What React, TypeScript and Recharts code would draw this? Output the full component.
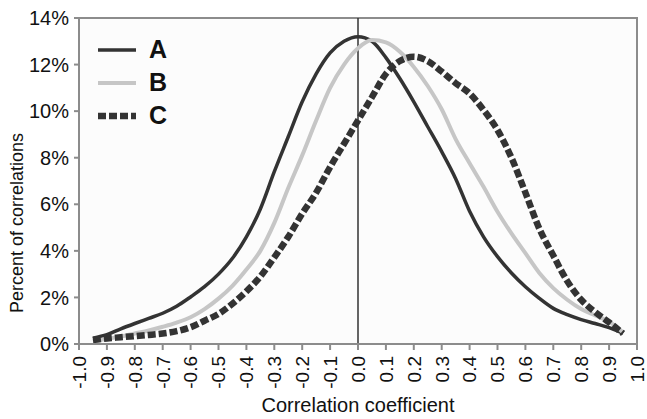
import React from 'react';
import {
  LineChart,
  Line,
  XAxis,
  YAxis,
  ReferenceLine,
  ReferenceArea,
  Legend
} from 'recharts';

// correlation bins (x positions of the smoothed points)
const coefficients = [
  -0.95, -0.9, -0.85, -0.8, -0.75, -0.7, -0.65, -0.6, -0.55, -0.5,
  -0.45, -0.4, -0.35, -0.3, -0.25, -0.2, -0.15, -0.1, -0.05, 0,
  0.05, 0.1, 0.15, 0.2, 0.25, 0.3, 0.35, 0.4, 0.45, 0.5,
  0.55, 0.6, 0.65, 0.7, 0.75, 0.8, 0.85, 0.9, 0.95
];

// percent of correlations per series
const seriesA = [
  0.25, 0.4, 0.65, 0.88, 1.1, 1.32, 1.62, 2.02, 2.46, 3.0,
  3.68, 4.6, 5.8, 7.4, 8.9, 10.4, 11.6, 12.5, 13.0, 13.2,
  13.0, 12.3, 11.4, 10.4, 9.33, 8.26, 7.1, 5.7, 4.6, 3.75,
  3.05, 2.46, 1.96, 1.53, 1.26, 1.05, 0.88, 0.7, 0.45
];
const seriesB = [
  0.12, 0.22, 0.32, 0.45, 0.58, 0.74, 0.92, 1.15, 1.5, 1.95,
  2.5, 3.2, 4.0, 5.2, 6.7, 8.1, 9.6, 11.0, 12.0, 12.7,
  13.05, 12.95, 12.55, 11.9, 11.08, 10.08, 8.8, 7.76, 6.75, 5.68,
  4.75, 3.9, 3.05, 2.4, 1.9, 1.5, 1.23, 0.96, 0.5
];
const seriesC = [
  0.17, 0.24, 0.29, 0.34, 0.39, 0.45, 0.55, 0.72, 1.0, 1.29,
  1.73, 2.26, 2.9, 3.72, 4.6, 5.6, 6.5, 7.6, 8.6, 9.6,
  10.6, 11.6, 12.15, 12.34, 12.15, 11.7, 11.2, 10.76, 10.05, 9.19,
  8.0, 6.5, 4.95, 3.8, 2.7, 1.9, 1.37, 0.93, 0.45
];

const xTickLabels = [
  '-1.0', '-0.9', '-0.8', '-0.7', '-0.6', '-0.5', '-0.4', '-0.3', '-0.2', '-0.1', '0.0',
  '0.1', '0.2', '0.3', '0.4', '0.5', '0.6', '0.7', '0.8', '0.9', '1.0'
];
const yTicks = [0, 2, 4, 6, 8, 10, 12, 14];

const chartData = coefficients.map((x, i) => ({
  x,
  A: seriesA[i],
  B: seriesB[i],
  C: seriesC[i]
}));

const SERIES = [
  { key: 'A', color: '#333333', width: 3.5, dash: undefined },
  { key: 'B', color: '#c6c6c6', width: 4, dash: undefined },
  { key: 'C', color: '#333333', width: 6.5, dash: '8 3' }
];

const FONT = '"Liberation Sans", Arial, sans-serif';

const XTick = (props: any) => {
  const { x, y, payload } = props;
  const label = xTickLabels.find((l) => Math.abs(parseFloat(l) - payload.value) < 1e-6) ?? '';
  return (
    <text
      x={x}
      y={y}
      dy="0.36em"
      transform={`rotate(-90, ${x}, ${y})`}
      textAnchor="end"
      fontSize={19}
      fill="#111"
      fontFamily={FONT}
    >
      {label}
    </text>
  );
};

const LegendBox = () => (
  <div style={{ fontFamily: FONT }}>
    {SERIES.map((s) => (
      <div key={s.key} style={{ display: 'flex', alignItems: 'center', height: 33 }}>
        <svg width={40} height={20}>
          <line x1={1} y1={10} x2={39} y2={10} stroke={s.color} strokeWidth={s.width} strokeDasharray={s.dash} />
        </svg>
        <span style={{ marginLeft: 12, fontSize: 25, fontWeight: 'bold', color: '#111', lineHeight: '33px' }}>
          {s.key}
        </span>
      </div>
    ))}
  </div>
);

export default function App() {
  return (
    <div style={{ width: 647, height: 419, background: '#fff', fontFamily: FONT }}>
      <style>{'body{margin:0;} .recharts-surface{overflow:visible;}'}</style>
      <LineChart width={647} height={419} data={chartData} margin={{ top: 18, right: 10, bottom: 0, left: 0 }}>
        <ReferenceArea
          x1={-1}
          x2={1}
          y1={0}
          y2={14}
          fill="#fcfcfc"
          fillOpacity={1}
          stroke="#8c8c8c"
          strokeWidth={2}
        />
        <XAxis
          dataKey="x"
          type="number"
          domain={[-1, 1]}
          ticks={xTickLabels.map((l) => parseFloat(l))}
          interval={0}
          height={75}
          tick={<XTick />}
          tickSize={6}
          tickMargin={6}
          stroke="#8c8c8c"
          strokeWidth={2}
          label={(p: any) => (
            <text
              x={p.viewBox.x + p.viewBox.width / 2}
              y={p.viewBox.y + 68}
              textAnchor="middle"
              fontSize={20}
              fill="#111"
              fontFamily={FONT}
            >
              Correlation coefficient
            </text>
          )}
        />
        <YAxis
          type="number"
          domain={[0, 14]}
          ticks={yTicks}
          width={79}
          tickFormatter={(v) => `${v}%`}
          tick={{ fontSize: 20, fill: '#111', fontFamily: FONT }}
          tickSize={5}
          tickMargin={5}
          stroke="#8c8c8c"
          strokeWidth={2}
          label={(p: any) => {
            const cx = p.viewBox.x + 17;
            const cy = p.viewBox.y + p.viewBox.height / 2 + 42;
            return (
              <text
                x={cx}
                y={cy}
                transform={`rotate(-90, ${cx}, ${cy})`}
                textAnchor="middle"
                dominantBaseline="central"
                fontSize={18}
                fill="#111"
                fontFamily={FONT}
              >
                Percent of correlations
              </text>
            );
          }}
        />
        <ReferenceLine x={0} stroke="#333" strokeWidth={1.5} />
        {SERIES.map((s) => (
          <Line
            key={s.key}
            dataKey={s.key}
            type="monotone"
            stroke={s.color}
            strokeWidth={s.width}
            strokeDasharray={s.dash}
            dot={false}
            activeDot={false}
            isAnimationActive={false}
          />
        ))}
        <Legend
          layout="vertical"
          align="center"
          verticalAlign="middle"
          content={<LegendBox />}
          wrapperStyle={{ top: 33, left: 97, width: 'auto' }}
        />
      </LineChart>
    </div>
  );
}
